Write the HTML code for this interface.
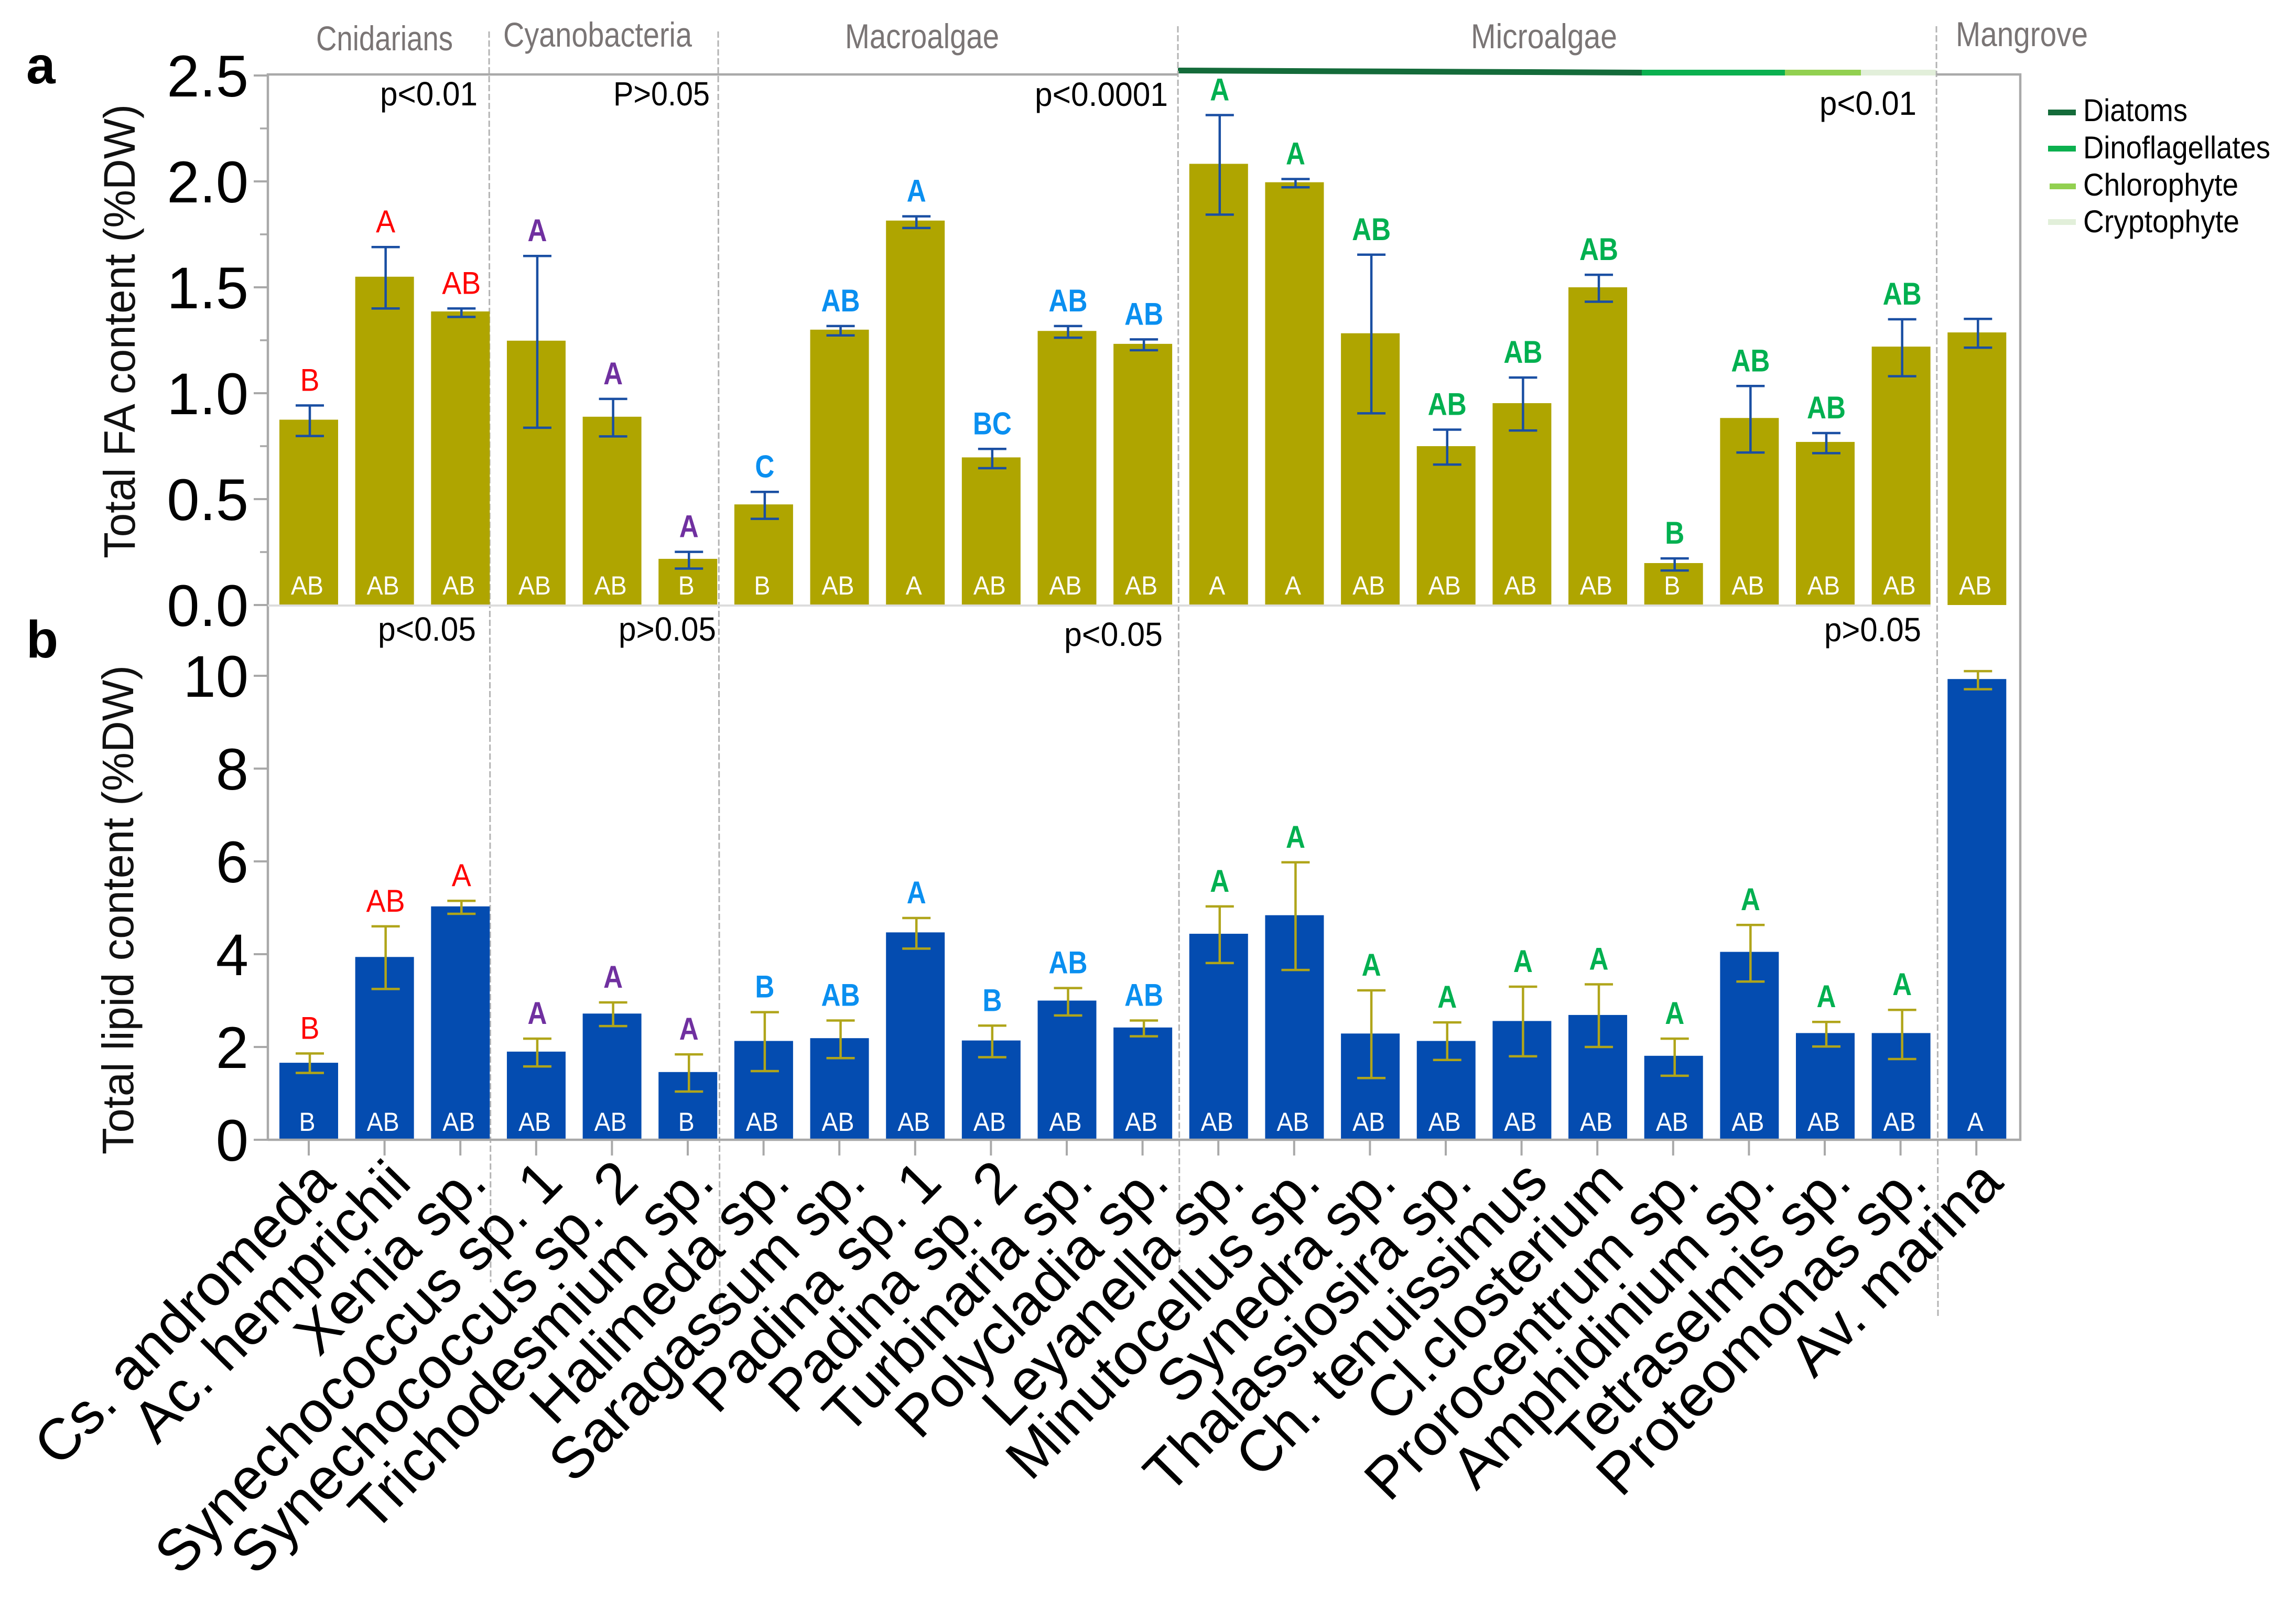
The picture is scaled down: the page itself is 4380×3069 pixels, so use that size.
<!DOCTYPE html>
<html lang="en">
<head>
<meta charset="utf-8">
<title>Total FA and lipid content</title>
<style>
html,body{margin:0;padding:0;background:#fff;}
svg{display:block;}
text{font-family:"Liberation Sans",sans-serif;}
</style>
</head>
<body>
<svg id="chart" xmlns="http://www.w3.org/2000/svg" width="4380" height="3069" viewBox="0 0 4380 3069">
  <rect x="0" y="0" width="4380" height="3069" fill="#ffffff"/>
  <text x="50" y="159" font-size="100" font-weight="bold">a</text>
  <text x="50" y="1254" font-size="100" font-weight="bold">b</text>
  <text transform="translate(257,1065) rotate(-90)" font-size="84" textLength="866" lengthAdjust="spacingAndGlyphs" fill="#111">Total FA content (%DW)</text>
  <text transform="translate(254,2202) rotate(-90)" font-size="84" textLength="933" lengthAdjust="spacingAndGlyphs" fill="#111">Total lipid content (%DW)</text>

  <g fill="#7a7575" font-size="66">
    <text x="603" y="96" textLength="261" lengthAdjust="spacingAndGlyphs">Cnidarians</text>
    <text x="960" y="89" textLength="360" lengthAdjust="spacingAndGlyphs">Cyanobacteria</text>
    <text x="1612" y="92" textLength="294" lengthAdjust="spacingAndGlyphs">Macroalgae</text>
    <text x="2806" y="92" textLength="279" lengthAdjust="spacingAndGlyphs">Microalgae</text>
    <text x="3731" y="88" textLength="252" lengthAdjust="spacingAndGlyphs">Mangrove</text>
  </g>

  <g fill="#000" font-size="64">
    <text x="725" y="201" textLength="186" lengthAdjust="spacingAndGlyphs">p&lt;0.01</text>
    <text x="1170" y="201" textLength="184" lengthAdjust="spacingAndGlyphs">P&gt;0.05</text>
    <text x="1974" y="202" textLength="254" lengthAdjust="spacingAndGlyphs">p&lt;0.0001</text>
    <text x="3471" y="219" textLength="185" lengthAdjust="spacingAndGlyphs">p&lt;0.01</text>
    <text x="721" y="1222" textLength="187" lengthAdjust="spacingAndGlyphs">p&lt;0.05</text>
    <text x="1180" y="1222" textLength="186" lengthAdjust="spacingAndGlyphs">p&gt;0.05</text>
    <text x="2030" y="1232" textLength="188" lengthAdjust="spacingAndGlyphs">p&lt;0.05</text>
    <text x="3480" y="1223" textLength="185" lengthAdjust="spacingAndGlyphs">p&gt;0.05</text>
  </g>

  <g>
    <polygon points="2247,129 3132,133 3132,144 2247,140" fill="#146b3a"/>
    <rect x="3132" y="133" width="273" height="11" fill="#0bb04f"/>
    <rect x="3405" y="133" width="145" height="11" fill="#92d050"/>
    <rect x="3550" y="133" width="144" height="11" fill="#e2efda"/>
  </g>

  <g font-size="60" fill="#000">
    <rect x="3907" y="209" width="53" height="11" fill="#146b3a"/>
    <text x="3974" y="231" textLength="199" lengthAdjust="spacingAndGlyphs">Diatoms</text>
    <rect x="3907" y="278" width="53" height="11" fill="#0bb04f"/>
    <text x="3974" y="302" textLength="357" lengthAdjust="spacingAndGlyphs">Dinoflagellates</text>
    <rect x="3910" y="350" width="50" height="11" fill="#92d050"/>
    <text x="3974" y="373" textLength="296" lengthAdjust="spacingAndGlyphs">Chlorophyte</text>
    <rect x="3907" y="418" width="53" height="11" fill="#e2efda"/>
    <text x="3974" y="443" textLength="298" lengthAdjust="spacingAndGlyphs">Cryptophyte</text>
  </g>

  <g id="marks"></g>
</svg>
<script>
const species = ["Cs. andromeda","Ac. hemprichii","Xenia sp.","Synechococcus sp. 1","Synechococcus sp. 2","Trichodesmium sp.","Halimeda sp.","Saragassum sp.","Padina sp. 1","Padina sp. 2","Turbinaria sp.","Polycladia sp.","Leyanella sp.","Minutocellus sp.","Synedra sp.","Thalassiosira sp.","Ch. tenuissimus","Cl.closterium","Prorocentrum sp.","Amphidinium sp.","Tetraselmis sp.","Proteomonas sp.","Av. marina"];
const groupOf = ["cnidarian","cnidarian","cnidarian","cyano","cyano","cyano","macro","macro","macro","macro","macro","macro","micro","micro","micro","micro","micro","micro","micro","micro","micro","micro","mangrove"];

const faValues = [0.875,1.55,1.386,1.248,0.889,0.218,0.475,1.30,1.815,0.697,1.294,1.233,2.083,1.996,1.283,0.75,0.953,1.50,0.198,0.883,0.77,1.22,1.287];
const faErrHigh = [0.942,1.69,1.40,1.648,0.973,0.251,0.534,1.317,1.835,0.737,1.317,1.254,2.313,2.011,1.654,0.828,1.074,1.559,0.22,1.034,0.812,1.349,1.351];
const faErrLow = [0.798,1.40,1.36,0.837,0.796,0.172,0.407,1.273,1.78,0.646,1.262,1.203,1.843,1.972,0.905,0.663,0.824,1.432,0.163,0.72,0.717,1.08,1.215];
const faTopLabels = ["B","A","AB","A","A","A","C","AB","A","BC","AB","AB","A","A","AB","AB","AB","AB","B","AB","AB","AB",""];
const faInnerLabels = ["AB","AB","AB","AB","AB","B","B","AB","A","AB","AB","AB","A","A","AB","AB","AB","AB","B","AB","AB","AB","AB"];
const faTicks = ["0.0","0.5","1.0","1.5","2.0","2.5"];
const faMinorTicks = [0.25,0.75,1.25,1.75,2.25];

const lipidValues = [1.66,3.94,5.03,1.9,2.72,1.46,2.13,2.19,4.47,2.14,3.0,2.42,4.44,4.84,2.29,2.13,2.56,2.69,1.81,4.05,2.3,2.3,9.93];
const lipidErrHigh = [1.86,4.6,5.15,2.18,2.96,1.84,2.75,2.57,4.78,2.46,3.27,2.57,5.03,5.98,3.22,2.53,3.3,3.35,2.18,4.63,2.54,2.8,10.1];
const lipidErrLow = [1.44,3.25,4.87,1.58,2.45,1.04,1.48,1.76,4.12,1.78,2.68,2.23,3.81,3.66,1.33,1.72,1.8,2.0,1.38,3.41,2.01,1.74,9.71];
const lipidTopLabels = ["B","AB","A","A","A","A","B","AB","A","B","AB","AB","A","A","A","A","A","A","A","A","A","A",""];
const lipidInnerLabels = ["B","AB","AB","AB","AB","B","AB","AB","AB","AB","AB","AB","AB","AB","AB","AB","AB","AB","AB","AB","AB","AB","A"];
const lipidTicks = ["0","2","4","6","8","10"];

const groupColors = {cnidarian:"#ff0000",cyano:"#7030a0",macro:"#0a8ff0",micro:"#00b050",mangrove:"#00b050"};

const NS = "http://www.w3.org/2000/svg";
const root = document.getElementById("marks");
const PLOT_LEFT = 511, PLOT_RIGHT = 3854, PLOT_TOP = 142;
const FA_ZERO = 1154, LIPID_ZERO = 2174;
const AXIS = "#a9a9a9";

function yFA(v){ return FA_ZERO - 404 * v; }
function yLipid(v){ return LIPID_ZERO - 88.5 * v; }
function barLeft(i){ return 533 + 144.65 * i; }
function barCenter(i){ return barLeft(i) + 56; }
function tickX(i){ return 589 + 144.6 * i; }

function make(tag, attrs, parent){
  const el = document.createElementNS(NS, tag);
  for (const k in attrs) el.setAttribute(k, attrs[k]);
  (parent || root).appendChild(el);
  return el;
}

function drawPanel(key, values, high, low, tops, inners, yScale, barColor, errColor, innerBaseline){
  const g = make("g", {});
  
  
  values.forEach(function(v, i){
    const y = yScale(v);
    const bar = make("rect", {x: barLeft(i), y: y, width: 112, height: yScale(0) - y, fill: barColor}, g);
    
    
  });
  values.forEach(function(v, i){
    const cx = barCenter(i) + 2;
    const yHi = yScale(high[i]);
    const yLo = yScale(low[i]);
    const eb = make("path", {d: "M" + (cx-27) + " " + yHi + "H" + (cx+27) + "M" + cx + " " + yHi + "V" + yLo + "M" + (cx-27) + " " + yLo + "H" + (cx+27), fill: "none", stroke: errColor, "stroke-width": 4.5}, g);
    
    
    if (tops[i]) {
      const red = groupOf[i] === "cnidarian";
      const t = make("text", {x: cx, y: yHi - 28, "text-anchor": "middle", "font-size": 60, "font-weight": red ? "normal" : "bold", fill: groupColors[groupOf[i]], textLength: tops[i].length * 37, lengthAdjust: "spacingAndGlyphs"}, g);
      t.textContent = tops[i];
      
      
    }
    const inner = make("text", {x: barCenter(i) - 3, y: innerBaseline, "text-anchor": "middle", "font-size": 50, fill: "#ffffff", textLength: inners[i].length * 31, lengthAdjust: "spacingAndGlyphs"}, g);
    inner.textContent = inners[i];
    
    
  });
}

/* separators */
const sepTop = [60, 60, 50, 50];
const sepBottom = [2446, 2520, 2428, 2512];
const sepX = [933, 1370, 2247, 3694];
sepX.forEach(function(x, i){
  const s = make("line", {x1: x, y1: sepTop[i], x2: x + 3, y2: sepBottom[i], stroke: "#b4b4b4", "stroke-width": 3, "stroke-dasharray": "12 5"});
  
  
});

drawPanel("fa", faValues, faErrHigh, faErrLow, faTopLabels, faInnerLabels, yFA, "#afa500", "#1a4fa3", FA_ZERO - 20);
drawPanel("lipid", lipidValues, lipidErrHigh, lipidErrLow, lipidTopLabels, lipidInnerLabels, yLipid, "#044cb0", "#b0a51a", LIPID_ZERO - 17);

/* frame */
const frame = make("path", {d: "M" + PLOT_LEFT + " " + LIPID_ZERO + "V" + PLOT_TOP + "H2247M3694 " + PLOT_TOP + "H" + PLOT_RIGHT + "V" + LIPID_ZERO + "H" + PLOT_LEFT, fill: "none", stroke: AXIS, "stroke-width": 4.5});



const faBase = make("line", {x1: PLOT_LEFT, y1: FA_ZERO + 1, x2: 3683, y2: FA_ZERO + 1, stroke: "#dcdcdc", "stroke-width": 4});



faTicks.forEach(function(label){
  const v = parseFloat(label);
  const y = yFA(v);
  const tk = make("line", {x1: 484, y1: y, x2: PLOT_LEFT, y2: y, stroke: AXIS, "stroke-width": 4});
  
  
  const t = make("text", {x: 474, y: y + 40, "text-anchor": "end", "font-size": 112, fill: "#000"});
  t.textContent = label;
  
  
});
faMinorTicks.forEach(function(v){
  const y = yFA(v);
  const tk = make("line", {x1: 496, y1: y, x2: PLOT_LEFT, y2: y, stroke: AXIS, "stroke-width": 3.5});
  
  
});

lipidTicks.forEach(function(label){
  const v = parseFloat(label);
  const y = yLipid(v);
  const tk = make("line", {x1: 484, y1: y, x2: PLOT_LEFT, y2: y, stroke: AXIS, "stroke-width": 4});
  
  
  const t = make("text", {x: 474, y: y + 40, "text-anchor": "end", "font-size": 112, fill: "#000"});
  t.textContent = label;
  
  
});

species.forEach(function(name, i){
  const x = tickX(i);
  const tk = make("line", {x1: x, y1: LIPID_ZERO, x2: x, y2: LIPID_ZERO + 30, stroke: AXIS, "stroke-width": 4});
  
  
  const ax = x + 55, ay = 2260;
  const t = make("text", {transform: "translate(" + ax + "," + ay + ") rotate(-45.5)", "text-anchor": "end", "font-size": 111, fill: "#000"});
  t.textContent = name;
  
  
});
</script>
</body>
</html>
